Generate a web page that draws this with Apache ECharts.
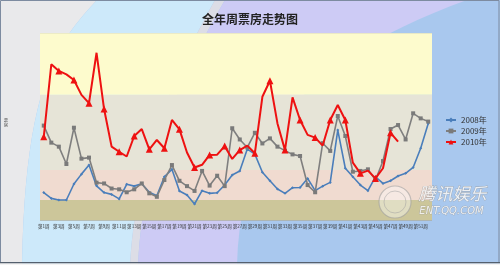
<!DOCTYPE html>
<html>
<head>
<meta charset="utf-8">
<script src="https://cdn.jsdelivr.net/npm/echarts@6/dist/echarts.min.js"></script>
<style>
html,body{margin:0;padding:0;background:#fff;}
#c{width:500px;height:265px;}
</style>
</head>
<body>
<div id="c"></div>
<script>
var weeks = ['第1周','第2周','第3周','第4周','第5周','第6周','第7周','第8周','第9周','第10周',
  '第11周','第12周','第13周','第14周','第15周','第16周','第17周','第18周','第19周','第20周',
  '第21周','第22周','第23周','第24周','第25周','第26周','第27周','第28周','第29周','第30周',
  '第31周','第32周','第33周','第34周','第35周','第36周','第37周','第38周','第39周','第40周',
  '第41周','第42周','第43周','第44周','第45周','第46周','第47周','第48周','第49周','第50周',
  '第51周','第52周'];

var y2008 = [10.3, 8.1, 7.5, 7.5, 13.5, 17.2, 20.6, 12.8, 10.3, 9.6, 7.9, 13.4, 12.7,
  13.6, 10.4, 9.1, 16.2, 19, 10.9, 9.4, 6, 11, 10, 10.2, 13.1, 16.9,
  18.4, 26.6, 24.7, 17.9, 14.7, 11.6, 10, 12.1, 12.2, 15.6, 11, 12.7, 14.1,
  33.7, 19.4, 16.2, 13.1, 11, 16.2, 13.7, 14.7, 16.5, 17.5, 19.7, 26.9, 36.2];

var y2009 = [35.4, 29, 27.5, 21, 34.6, 23, 23.4, 14, 13.7, 11.8, 11.5, 10.4, 11.5,
  13.7, 10, 8.7, 15, 20.6, 14.7, 12.7, 10.9, 18.4, 12.9, 16.6, 12.7, 34.4,
  30.2, 27.2, 32.7, 28.7, 30.6, 27.5, 26, 24.6, 24, 13.1, 10.4, 28.8, 25.9,
  39, 31.5, 18.1, 18.4, 19, 15, 22.1, 34.1, 35.6, 30.2, 40, 38.1, 36.9];

var y2010 = [31.2, 58.4, 55.9, 54.6, 52.5, 46.9, 43.8, 62.7, 41.6, 27.5, 25.6, 23.8, 31.5,
  34.1, 26.5, 30, 26.9, 37.5, 34, 25.3, 19.7, 20.7, 24.4, 24.5, 27.7, 22.9,
  26.2, 27.9, 25, 46.2, 52.2, 36.2, 26.2, 46, 37.5, 31.9, 30.9, 27.9, 37.5,
  43.1, 37.5, 21.5, 17.5, 18.5, 15.6, 19.4, 32.7, 29.4,
  null, null, null, null];

var seriesNames = ['2008年', '2009年', '2010年'];
var yTicks = [0, 10, 20, 30, 40, 50, 60, 70];
var bandEdges = [0, 7.5, 18.7, 47, 70];
var bandColors = ['#ccc69a', '#f0dbd0', '#e6e4d7', '#fdfbcd'];

var FONT = '"Noto Sans CJK SC", "Noto Sans", sans-serif';

var bands = [];
for (var b = 0; b < bandColors.length; b++) {
  bands.push([{yAxis: bandEdges[b], itemStyle: {color: bandColors[b]}}, {yAxis: bandEdges[b + 1]}]);
}

// decorative background curves (sampled cubic beziers)
function bez(p0, p1, p2, p3) {
  var pts = [];
  for (var k = 0; k <= 24; k++) {
    var t = k / 24, u = 1 - t;
    pts.push([
      u*u*u*p0[0] + 3*u*u*t*p1[0] + 3*u*t*t*p2[0] + t*t*t*p3[0],
      u*u*u*p0[1] + 3*u*u*t*p1[1] + 3*u*t*t*p2[1] + t*t*t*p3[1]
    ]);
  }
  return pts;
}
var c1 = bez([97,0],[60,40],[25,80],[22,265]);
var c2 = bez([215,0],[170,80],[135,170],[130,265]);
var c3 = bez([225,0],[178,80],[142,170],[138,265]);
var c4 = bez([467,0],[330,50],[240,120],[237,265]);
function rev(a){ return a.slice().reverse(); }
var bgShapes = [
  {pts: [[0,0]].concat(c1).concat([[0,265]]), fill: '#e9e9eb'},
  {pts: c1.concat(rev(c2)), fill: '#cde9fa'},
  {pts: c2.concat(rev(c3)), fill: '#dcdde6'},
  {pts: c3.concat(rev(c4)), fill: '#cdcbf5'}
];
var graphics = bgShapes.map(function (s) {
  return {type: 'polygon', z: -10, silent: true, shape: {points: s.pts}, style: {fill: s.fill}};
});
graphics = graphics.concat([
  {type: 'rect', z: -9, silent: true,
    shape: {x: 0.5, y: 0.5, width: 498.5, height: 262},
    style: {fill: 'none', stroke: '#7d8ba0', lineWidth: 1}},
  {type: 'rect', z: -9, silent: true,
    shape: {x: 0, y: 262, width: 500, height: 1.5},
    style: {fill: '#55606e'}},
  {type: 'rect', z: -9, silent: true,
    shape: {x: 0, y: 263.5, width: 500, height: 2},
    style: {fill: '#f4f4f4'}},
  {type: 'text', z: 10, silent: true, left: 4, top: 118,
    style: {text: '票\n房', fontSize: 4, lineHeight: 5, fill: '#333', fontFamily: FONT}},
  {type: 'circle', z: 10, silent: true,
    shape: {cx: 395, cy: 202, r: 16},
    style: {fill: 'rgba(255,255,255,0.4)', stroke: 'rgba(160,160,160,0.6)', lineWidth: 1.2}},
  {type: 'circle', z: 10, silent: true,
    shape: {cx: 395, cy: 202, r: 11},
    style: {fill: 'none', stroke: 'rgba(160,160,160,0.5)', lineWidth: 1}},
  {type: 'text', z: 10, silent: true, left: 418, top: 185,
    style: {text: '腾讯娱乐', fontSize: 17, fontStyle: 'italic',
      fill: 'rgba(255,255,255,0.8)', stroke: 'rgba(150,150,150,0.7)', lineWidth: 0.8, fontFamily: FONT}},
  {type: 'text', z: 10, silent: true, left: 419, top: 206,
    style: {text: 'ENT.QQ.COM', fontSize: 10, fontStyle: 'italic',
      fill: 'rgba(255,255,255,0.8)', stroke: 'rgba(150,150,150,0.7)', lineWidth: 0.7, fontFamily: 'DejaVu Sans'}}
]);

var chart = echarts.init(document.getElementById('c'), null, {renderer: 'canvas'});
chart.setOption({
  animation: false,
  backgroundColor: '#a9c8ee',
  title: {
    text: '全年周票房走势图',
    left: 'center',
    top: 8,
    textStyle: {fontSize: 12, fontWeight: 'bold', color: '#222', fontFamily: FONT}
  },
  legend: {
    orient: 'vertical',
    left: 440,
    top: 111,
    itemWidth: 10,
    itemHeight: 6,
    itemGap: 3,
    data: seriesNames,
    textStyle: {fontSize: 8, color: '#333', fontFamily: FONT}
  },
  graphic: graphics,
  grid: {left: 40, right: 68, top: 33.3, bottom: 45, containLabel: false},
  xAxis: {
    type: 'category',
    data: weeks,
    boundaryGap: true,
    axisLine: {show: false},
    axisTick: {show: false},
    axisLabel: {interval: 1, fontSize: 4.6, color: '#333', margin: 4, fontFamily: FONT,
      hideOverlap: false}
  },
  yAxis: {
    type: 'value',
    min: yTicks[0],
    max: yTicks[yTicks.length - 1],
    interval: 10,
    z: 1,
    axisLine: {show: false},
    axisTick: {show: false},
    axisLabel: {show: false},
    splitLine: {show: true, lineStyle: {color: '#aeae9f', width: 1.5}}
  },
  series: [
    {
      name: 'bands', type: 'line', data: [], silent: true, z: 0,
      markArea: {silent: true, data: bands}
    },
    {
      name: seriesNames[0], type: 'line', data: y2008, z: 3,
      symbol: 'diamond', symbolSize: 3, showSymbol: true,
      lineStyle: {color: '#4a7ebb', width: 1.6},
      itemStyle: {color: '#4a7ebb'}
    },
    {
      name: seriesNames[1], type: 'line', data: y2009, z: 4,
      symbol: 'rect', symbolSize: 4,
      lineStyle: {color: '#7f7f7f', width: 1.6},
      itemStyle: {color: '#7a7a7a'}
    },
    {
      name: seriesNames[2], type: 'line', data: y2010, z: 5,
      symbol: 'triangle', symbolSize: 7,
      lineStyle: {color: '#ee1111', width: 2},
      itemStyle: {color: '#ee1111'}
    }
  ]
});
</script>
</body>
</html>
